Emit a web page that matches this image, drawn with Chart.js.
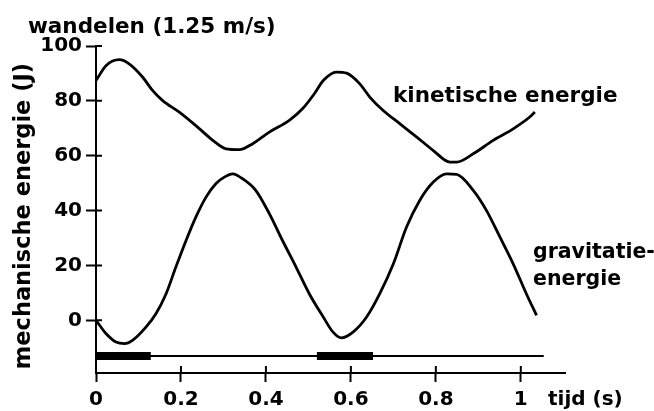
<!DOCTYPE html>
<html>
<head>
<meta charset="utf-8">
<script src="https://cdn.jsdelivr.net/npm/chart.js@4.4.0/dist/chart.umd.min.js"></script>
<style>
  body { margin: 0; background: #fff; }
  #wrap { width: 654px; height: 411px; }
</style>
</head>
<body>
<div id="wrap"><canvas id="energieChart" width="654" height="411"></canvas></div>
<script>
// kinetische energie (J) tegen tijd (s)
const kinTijd = [0, 0.024, 0.055, 0.078, 0.11, 0.133, 0.157, 0.196, 0.235, 0.275, 0.306, 0.337, 0.369, 0.408, 0.455, 0.486, 0.514, 0.535, 0.566, 0.59, 0.621, 0.645, 0.676, 0.715, 0.755, 0.794, 0.833, 0.849, 0.888, 0.935, 0.982, 1.021, 1.033];
const kinEnergie = [87.4, 92.9, 95.0, 93.5, 88.6, 83.8, 80.1, 75.9, 71.0, 65.6, 62.5, 62.2, 64.4, 68.6, 72.9, 77.1, 82.6, 87.4, 90.5, 90.1, 86.2, 81.3, 76.5, 71.7, 66.8, 61.9, 57.7, 57.7, 60.7, 65.6, 69.8, 74.1, 75.9];

// gravitatie-energie (J) tegen tijd (s)
const gravTijd = [0, 0.024, 0.047, 0.067, 0.086, 0.118, 0.141, 0.165, 0.188, 0.212, 0.235, 0.259, 0.282, 0.302, 0.322, 0.345, 0.376, 0.408, 0.439, 0.471, 0.502, 0.535, 0.558, 0.578, 0.605, 0.637, 0.668, 0.7, 0.731, 0.762, 0.794, 0.825, 0.849, 0.888, 0.919, 0.951, 0.982, 1.013, 1.037];
const gravEnergie = [0, -4.9, -7.9, -8.5, -7.3, -2.4, 2.4, 9.7, 19.4, 29.1, 37.6, 44.9, 49.8, 52.2, 53.4, 51.6, 47.4, 38.9, 29.1, 19.4, 9.7, 1.2, -4.3, -6.4, -4.3, 1.2, 9.7, 20.6, 34.0, 43.7, 50.4, 53.4, 53.2, 47.4, 40.1, 30.3, 20.6, 9.7, 1.8];

// tijdbalk onder de grafiek: dikke stukken = steunfase
const balkNiveau = -13;
const balkEinde = 1.054;
const steunBegin = [0, 0.52];
const steunEinde = [0.129, 0.652];

const xTicks = [0, 0.2, 0.4, 0.6, 0.8, 1];
const yTicks = [0, 20, 40, 60, 80, 100];

const toPoints = (xs, ys) => xs.map((t, i) => ({ x: t, y: ys[i] }));

const curve = (data) => ({
    data,
    borderColor: '#000',
    borderWidth: 2.8,
    pointRadius: 0,
    fill: false,
    cubicInterpolationMode: 'monotone'
});

const datasets = [
    curve(toPoints(kinTijd, kinEnergie)),
    curve(toPoints(gravTijd, gravEnergie)),
    {
        data: [{ x: 0, y: balkNiveau }, { x: balkEinde, y: balkNiveau }],
        borderColor: '#000',
        borderWidth: 2,
        pointRadius: 0
    }
];

steunBegin.forEach((start, i) => {
    datasets.push({
        data: [{ x: start, y: balkNiveau }, { x: steunEinde[i], y: balkNiveau }],
        borderColor: '#000',
        borderWidth: 8,
        borderCapStyle: 'butt',
        pointRadius: 0
    });
});

const FONT = "'DejaVu Sans', sans-serif";

const tekstPlugin = {
    id: 'tekst',
    afterDraw(chart) {
        const { ctx, chartArea, scales: { x, y } } = chart;
        ctx.save();

        // tick marks also poke a bit into the plot
        ctx.strokeStyle = '#000';
        ctx.lineWidth = 2;
        ctx.beginPath();
        yTicks.forEach(v => {
            const py = y.getPixelForValue(v);
            ctx.moveTo(chartArea.left, py);
            ctx.lineTo(chartArea.left + 6, py);
        });
        xTicks.forEach(v => {
            const px = x.getPixelForValue(v);
            ctx.moveTo(px, chartArea.bottom);
            ctx.lineTo(px, chartArea.bottom - 7);
        });
        ctx.stroke();

        ctx.fillStyle = '#000';
        ctx.textBaseline = 'alphabetic';
        ctx.textAlign = 'left';
        ctx.font = 'bold 21.5px ' + FONT;
        ctx.fillText('wandelen (1.25 m/s)', 28, 33);
        ctx.fillText('kinetische energie', 393, 102);
        ctx.font = 'bold 20.5px ' + FONT;
        ctx.fillText('gravitatie-', 533, 258);
        ctx.fillText('energie', 533, 285);
        ctx.font = 'bold 20px ' + FONT;
        ctx.fillText('tijd (s)', 548, 405);

        ctx.translate(30, 216);
        ctx.rotate(-Math.PI / 2);
        ctx.textAlign = 'center';
        ctx.font = 'bold 22.5px ' + FONT;
        ctx.fillText('mechanische energie (J)', 0, 0);
        ctx.restore();
    }
};

const ctx = document.getElementById('energieChart').getContext('2d');
new Chart(ctx, {
    type: 'line',
    data: { datasets },
    options: {
        responsive: false,
        animation: false,
        events: [],
        layout: { padding: { top: 46, right: 89, left: 0, bottom: 0 } },
        plugins: {
            legend: { display: false },
            tooltip: { enabled: false }
        },
        scales: {
            x: {
                type: 'linear',
                min: 0,
                max: 1.104,
                afterFit: (scale) => { scale.height = 38; },
                afterBuildTicks: (scale) => { scale.ticks = xTicks.map(v => ({ value: v })); },
                ticks: {
                    color: '#000',
                    font: { family: FONT, size: 20, weight: 'bold' },
                    padding: 6,
                    maxRotation: 0,
                    callback: (v) => String(v)
                },
                grid: { drawOnChartArea: false, tickLength: 9, tickWidth: 2, tickColor: '#000' },
                border: { color: '#000', width: 2 }
            },
            y: {
                type: 'linear',
                min: -19.2,
                max: 100,
                afterFit: (scale) => { scale.width = 96; },
                afterBuildTicks: (scale) => { scale.ticks = yTicks.map(v => ({ value: v })); },
                ticks: {
                    color: '#000',
                    font: { family: FONT, size: 20, weight: 'bold' },
                    padding: 4,
                    callback: (v) => String(v)
                },
                grid: { drawOnChartArea: false, tickLength: 10, tickWidth: 2, tickColor: '#000' },
                border: { color: '#000', width: 2 }
            }
        }
    },
    plugins: [tekstPlugin]
});
</script>
</body>
</html>
